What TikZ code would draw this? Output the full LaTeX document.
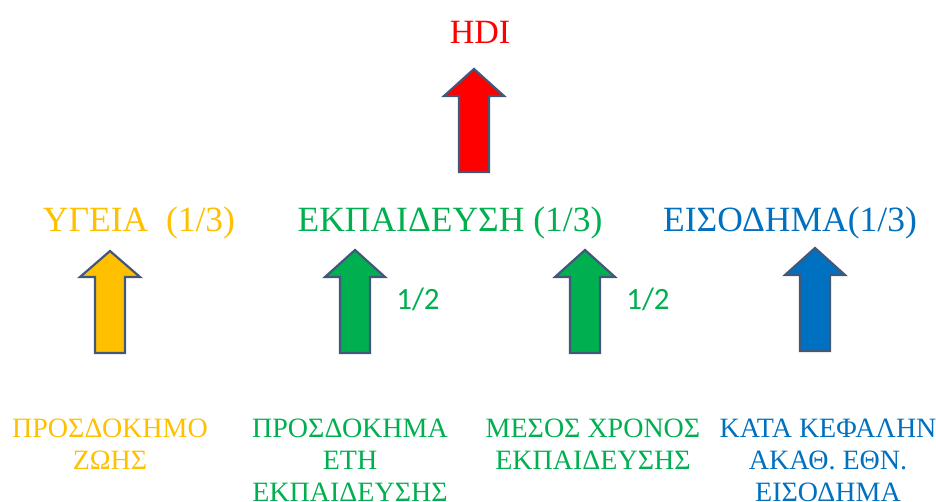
\documentclass[tikz,border=0pt]{standalone}
\usepackage{fontspec}
\setmainfont{Liberation Serif}
\newfontfamily\calib{Carlito}
\definecolor{cred}{HTML}{FF0000}
\definecolor{cyel}{HTML}{FFC000}
\definecolor{cgrn}{HTML}{00B050}
\definecolor{cblu}{HTML}{0070C0}
\definecolor{cline}{HTML}{41587A}
\begin{document}
\begin{tikzpicture}[x=1pt,y=-1pt,
  arrowbody/.style={draw=cline,line width=2.2pt,line join=miter},
  title/.style={inner sep=0pt,anchor=base,font=\fontsize{35.5}{40}\selectfont},
  bottomtxt/.style={inner sep=0pt,anchor=north,align=center,font=\fontsize{28}{32}\selectfont},
  weight/.style={inner sep=0pt,text=cgrn,font=\calib\fontsize{31}{36}\selectfont}]
\useasboundingbox (0,0) rectangle (936,501);
% arrow macro: colour, center x, tip y, head base y, bottom y
\newcommand\uparrowshape[5]{%
  \filldraw[arrowbody,fill=#1] (#2,#3) -- (#2+30,#4) -- (#2+15,#4) -- (#2+15,#5)
    -- (#2-15,#5) -- (#2-15,#4) -- (#2-30,#4) -- cycle;}
\uparrowshape{cred}{474}{69}{96}{172}
\uparrowshape{cyel}{110}{251}{277}{353}
\uparrowshape{cgrn}{355}{250}{277}{353}
\uparrowshape{cgrn}{585}{250}{277}{353}
\uparrowshape{cblu}{815}{248}{275}{351}
% texts
\node[title,text=cred,font=\fontsize{34}{38}\selectfont] (hdi) at (480,43) {HDI};
\node[title,text=cyel] (ygeia) at (139,231) {ΥΓΕΙΑ\ \ (1/3)};
\node[title,text=cgrn] (ekp) at (450,231) {ΕΚΠΑΙΔΕΥΣΗ (1/3)};
\node[title,text=cblu] (eis) at (790,231) {ΕΙΣΟΔΗΜΑ(1/3)};
\node[weight] (w1) at (418,299) {1/2};
\node[weight] (w2) at (648,299) {1/2};
\node[bottomtxt,text=cyel] (b1) at (110,419) {ΠΡΟΣΔΟΚΗΜΟ\\ΖΩΗΣ};
\node[bottomtxt,text=cgrn] (b2) at (350,419) {ΠΡΟΣΔΟΚΗΜΑ\\ΕΤΗ\\ΕΚΠΑΙΔΕΥΣΗΣ};
\node[bottomtxt,text=cgrn] (b3) at (593,419) {ΜΕΣΟΣ ΧΡΟΝΟΣ\\ΕΚΠΑΙΔΕΥΣΗΣ};
\node[bottomtxt,text=cblu] (b4) at (828,419) {ΚΑΤΑ ΚΕΦΑΛΗΝ\\ΑΚΑΘ. ΕΘΝ.\\ΕΙΣΟΔΗΜΑ};
\end{tikzpicture}
\end{document}
